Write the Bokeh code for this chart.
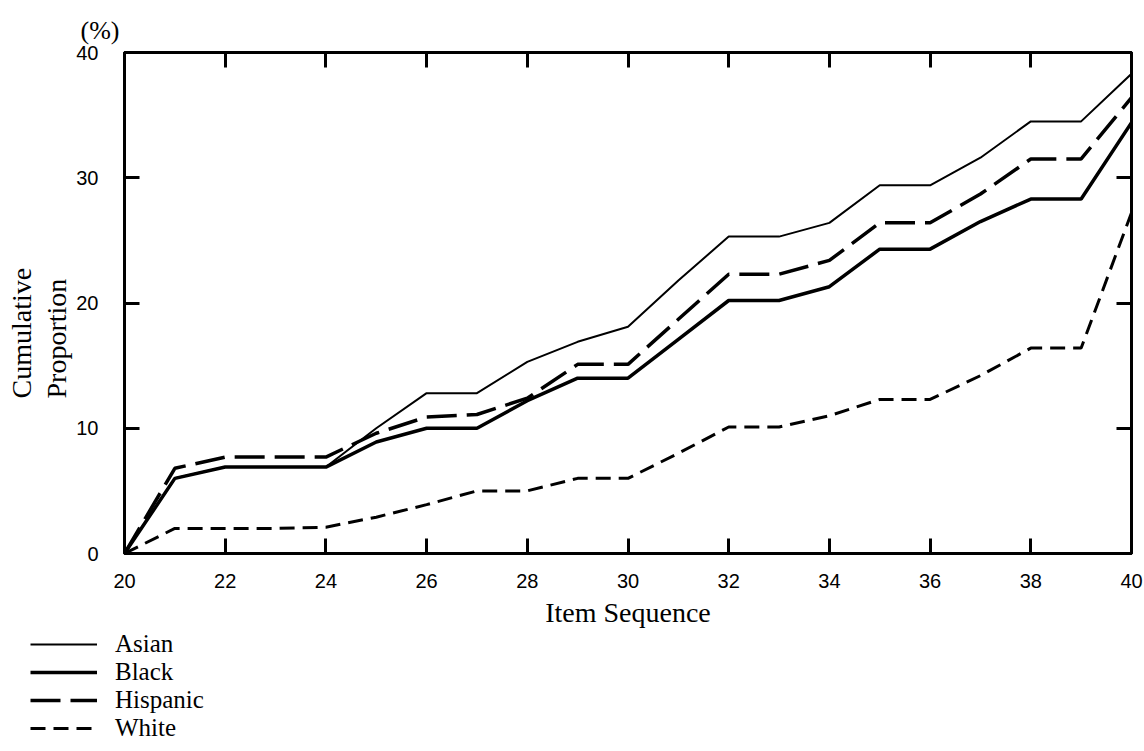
from bokeh.plotting import figure
from bokeh.layouts import column
from bokeh.models import (LinearAxis, FixedTicker, Legend, LegendItem, Range1d, Title)
from bokeh.embed import file_html
from bokeh.resources import INLINE

items = list(range(20, 41))
asian = [0, 6.0, 6.9, 6.9, 6.9, 10.0, 12.8, 12.8, 15.3, 16.9, 18.1, 21.8, 25.3, 25.3, 26.4, 29.4, 29.4, 31.6, 34.5, 34.5, 38.3]
black = [0, 6.0, 6.9, 6.9, 6.9, 8.9, 10.0, 10.0, 12.2, 14.0, 14.0, 17.1, 20.2, 20.2, 21.3, 24.3, 24.3, 26.5, 28.3, 28.3, 34.4]
hispanic = [0, 6.8, 7.7, 7.7, 7.7, 9.6, 10.9, 11.1, 12.4, 15.1, 15.1, 18.7, 22.3, 22.3, 23.4, 26.4, 26.4, 28.7, 31.5, 31.5, 36.4]
white = [0, 2.0, 2.0, 2.0, 2.1, 2.9, 3.9, 5.0, 5.0, 6.0, 6.0, 8.0, 10.1, 10.1, 11.0, 12.3, 12.3, 14.2, 16.4, 16.4, 27.2]
series_names = ["Asian", "Black", "Hispanic", "White"]
x_ticks = list(range(20, 41, 2))
y_ticks = [0, 10, 20, 30, 40]

SERIF = "Liberation Serif"
SANS = "Liberation Sans"

MAIN_H = 630
p = figure(width=1144, height=MAIN_H, x_range=Range1d(20, 40), y_range=Range1d(0, 40),
           output_backend="svg", toolbar_location=None,
           min_border_left=124, min_border_right=13, min_border_top=52,
           min_border_bottom=MAIN_H - 553)
p.xgrid.visible = False
p.ygrid.visible = False
p.outline_line_color = "black"
p.outline_line_width = 3
p.background_fill_color = "white"
p.border_fill_color = "white"

def style_axis(ax, ticks, show_labels):
    ax.ticker = FixedTicker(ticks=ticks)
    ax.minor_tick_line_color = None
    ax.major_tick_in = 15
    ax.major_tick_out = 0
    ax.major_tick_line_width = 3
    ax.major_tick_line_color = "black"
    ax.axis_line_width = 3
    ax.axis_line_color = "black"
    if show_labels:
        ax.major_label_text_font = SANS
        ax.major_label_text_font_size = "20px"
        ax.major_label_text_color = "black"
    else:
        ax.major_label_overrides = {t: "" for t in ticks}
        ax.major_label_text_font_size = "1px"
        ax.major_label_standoff = 0

xa = p.xaxis[0]
style_axis(xa, x_ticks, True)
xa.major_label_standoff = 20
xa.axis_label = "Item Sequence"
xa.axis_label_text_font = SERIF
xa.axis_label_text_font_size = "28px"
xa.axis_label_text_font_style = "normal"
xa.axis_label_text_color = "black"
xa.axis_label_standoff = 6

ya = p.yaxis[0]
style_axis(ya, y_ticks, True)
ya.major_label_standoff = 26

top = LinearAxis()
style_axis(top, x_ticks, False)
p.add_layout(top, "above")
right = LinearAxis()
style_axis(right, y_ticks, False)
p.add_layout(right, "right")

p.add_layout(Title(text="(%)", align="left", offset=-44, text_font=SERIF, text_color="black",
                   text_font_size="26px", text_font_style="normal", standoff=15), "above")
p.add_layout(Title(text="Proportion", align="left", offset=155, text_font=SERIF,
                   text_color="black", text_font_size="28px", text_font_style="normal",
                   standoff=4), "left")
p.add_layout(Title(text="Cumulative", align="left", offset=155, text_font=SERIF,
                   text_color="black", text_font_size="28px", text_font_style="normal",
                   standoff=0), "left")

p.line(items, asian, line_color="black", line_width=2)
p.line(items, black, line_color="black", line_width=3.5)
p.line(items, hispanic, line_color="black", line_width=3.5, line_dash="30 10")
p.line(items, white, line_color="black", line_width=3, line_dash="15 8")

# legend panel beneath the chart
LEG_H = 751 - MAIN_H
q = figure(width=1144, height=LEG_H, x_range=Range1d(0, 1), y_range=Range1d(0, 1),
           x_axis_type=None, y_axis_type=None,
           output_backend="svg", toolbar_location=None,
           min_border_left=30, min_border_right=0, min_border_top=0, min_border_bottom=0)
for fig in (p, q):
    try:
        fig.frame_align = False
    except Exception:
        pass
q.xgrid.visible = False
q.ygrid.visible = False
q.outline_line_color = None
nan = float("nan")
styles = [dict(line_width=2), dict(line_width=3.5), dict(line_width=3.5, line_dash="30 10"),
          dict(line_width=3, line_dash="15 8")]
rends = [q.line([0, 1], [nan, nan], line_color="black", **s) for s in styles]
legend = Legend(items=[LegendItem(label=n, renderers=[r]) for n, r in zip(series_names, rends)],
                location="top_left")
legend.label_text_font = SERIF
legend.label_text_font_size = "25px"
legend.label_text_color = "black"
legend.label_height = 26
legend.glyph_height = 26
legend.glyph_width = 67
legend.label_standoff = 18
legend.spacing = 0
legend.padding = 0
legend.margin = 0
legend.border_line_alpha = 0
legend.background_fill_alpha = 0
q.add_layout(legend, "center")

open("out.html", "w").write(file_html(column(p, q, spacing=0), INLINE))
